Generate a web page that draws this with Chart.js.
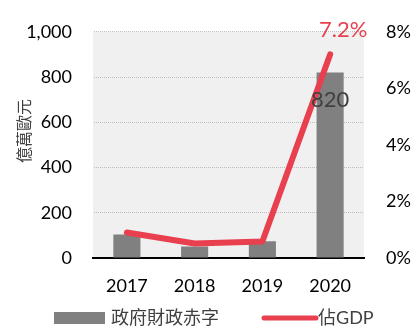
<!DOCTYPE html>
<html>
<head>
<meta charset="utf-8">
<script src="https://cdn.jsdelivr.net/npm/chart.js@4"></script>
<style>
  html, body { margin: 0; padding: 0; background: #fff; }
  #wrap { width: 411px; height: 329px; }
</style>
</head>
<body>
<div id="wrap"><canvas id="deficit"></canvas></div>
<script>
// values
const years = ['2017', '2018', '2019', '2020'];
const deficit = [104, 51, 74, 820];      // 億萬歐元
const gdpShare = [0.9, 0.51, 0.58, 7.2]; // % of GDP
const unitTitle = '億萬歐元';

const FONT = "Lato, 'Noto Sans CJK TC', sans-serif";
const GREY = '#808080';
const RED = '#e8404f';

// light grey plot background
const plotBg = {
    id: 'plotBg',
    beforeDraw(chart) {
        const { ctx, chartArea: a } = chart;
        ctx.save();
        ctx.fillStyle = '#f0f0f0';
        ctx.fillRect(a.left, a.top, a.right - a.left, a.bottom - a.top);
        ctx.restore();
    }
};

// value labels, axis title and the hand drawn legend
const extras = {
    id: 'extras',
    afterDraw(chart) {
        const ctx = chart.ctx;
        const bars = chart.getDatasetMeta(1).data;
        const pts = chart.getDatasetMeta(0).data;
        const last = years.length - 1;
        ctx.save();
        ctx.textAlign = 'center';
        ctx.textBaseline = 'middle';
        ctx.font = '22px ' + FONT;
        ctx.fillStyle = '#404040';
        ctx.fillText(deficit[last], bars[last].x, 100);
        ctx.fillStyle = RED;
        ctx.fillText(gdpShare[last] + '%', pts[last].x + 13, 30);

        // y axis title, a bit above the middle as in the original
        ctx.save();
        ctx.translate(25, 131);
        ctx.rotate(-Math.PI / 2);
        ctx.font = '16px ' + FONT;
        ctx.fillStyle = '#404040';
        ctx.fillText(unitTitle, 0, 0);
        ctx.restore();

        // legend
        const ly = 318;
        ctx.fillStyle = GREY;
        ctx.fillRect(54, ly - 6, 51, 12);
        ctx.strokeStyle = RED;
        ctx.lineWidth = 5;
        ctx.lineCap = 'round';
        ctx.beginPath();
        ctx.moveTo(264, ly);
        ctx.lineTo(316, ly);
        ctx.stroke();
        ctx.textAlign = 'left';
        ctx.fillStyle = '#404040';
        ctx.font = '18px ' + FONT;
        ctx.fillText(chart.data.datasets[1].label, 111, ly);
        ctx.fillText(chart.data.datasets[0].label, 318, ly);
        ctx.restore();
    }
};

new Chart(document.getElementById('deficit'), {
    data: {
        labels: years,
        datasets: [{
            type: 'line',
            label: '佔GDP',
            data: gdpShare,
            yAxisID: 'y1',
            borderColor: RED,
            borderWidth: 6,
            borderCapStyle: 'round',
            borderJoinStyle: 'round',
            pointRadius: 0,
            tension: 0,
            order: 0
        }, {
            type: 'bar',
            label: '政府財政赤字',
            data: deficit,
            yAxisID: 'y',
            backgroundColor: GREY,
            barPercentage: 0.4,
            categoryPercentage: 1,
            order: 1
        }]
    },
    options: {
        responsive: true,
        maintainAspectRatio: false,
        animation: false,
        layout: { padding: { top: 19, bottom: 31, left: 0, right: 0 } },
        plugins: { legend: { display: false }, tooltip: { enabled: false } },
        scales: {
            x: {
                grid: { display: false },
                border: { color: '#000', width: 2 },
                ticks: { color: '#000', font: { family: FONT, size: 18 }, padding: 9 },
                afterFit(s) { s.height = 40; }
            },
            y: {
                position: 'left',
                min: 0, max: 1000,
                ticks: {
                    stepSize: 200,
                    color: '#000',
                    padding: 21,
                    font: { family: FONT, size: 18 },
                    callback: v => v.toLocaleString('en-US')
                },
                grid: { color: '#bdbdbd', drawTicks: false },
                border: { display: true, color: 'rgba(0,0,0,0)', dash: [1, 1] },
                afterFit(s) { s.width = 93; }
            },
            y1: {
                position: 'right',
                min: 0, max: 8,
                ticks: {
                    stepSize: 2,
                    color: '#000',
                    padding: 14,
                    font: { family: FONT, size: 18 },
                    callback: v => v + '%'
                },
                grid: { display: false },
                border: { display: false },
                afterFit(s) { s.width = 47; }
            }
        }
    },
    plugins: [plotBg, extras]
});
</script>
</body>
</html>
